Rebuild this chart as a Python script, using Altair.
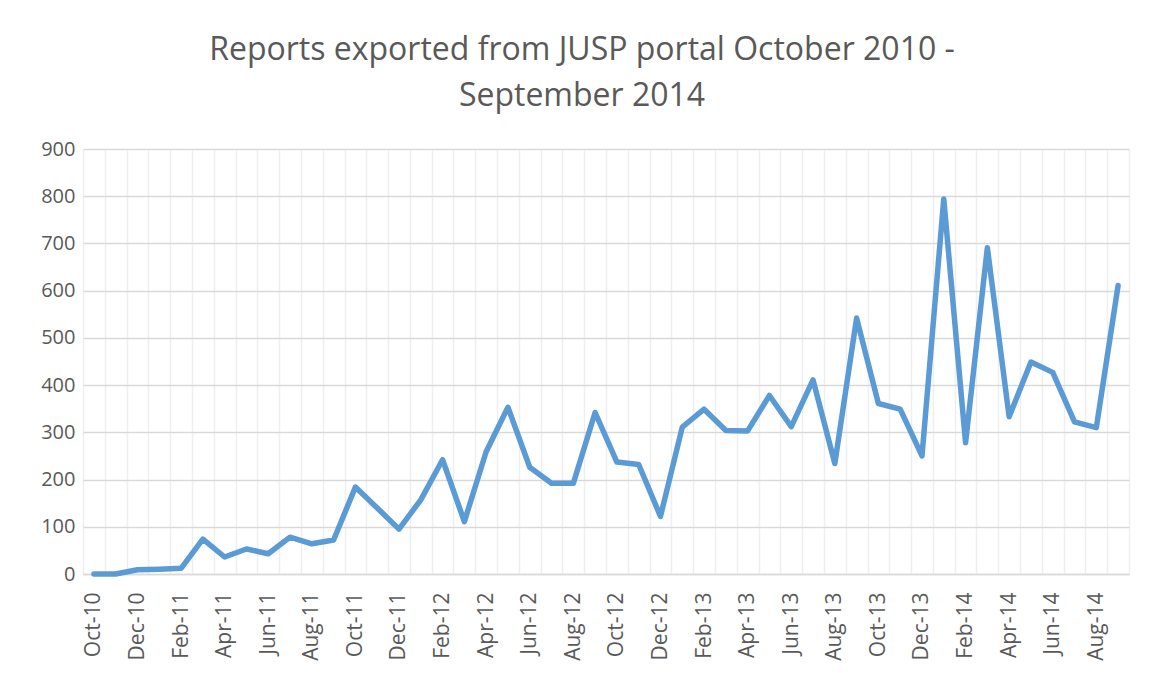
import altair as alt
import pandas as pd

months = [
    "Oct-10", "Nov-10", "Dec-10", "Jan-11", "Feb-11", "Mar-11", "Apr-11", "May-11",
    "Jun-11", "Jul-11", "Aug-11", "Sep-11", "Oct-11", "Nov-11", "Dec-11", "Jan-12",
    "Feb-12", "Mar-12", "Apr-12", "May-12", "Jun-12", "Jul-12", "Aug-12", "Sep-12",
    "Oct-12", "Nov-12", "Dec-12", "Jan-13", "Feb-13", "Mar-13", "Apr-13", "May-13",
    "Jun-13", "Jul-13", "Aug-13", "Sep-13", "Oct-13", "Nov-13", "Dec-13", "Jan-14",
    "Feb-14", "Mar-14", "Apr-14", "May-14", "Jun-14", "Jul-14", "Aug-14", "Sep-14",
]
reports = [
    0, 0, 9, 10, 12, 74, 36, 53,
    43, 78, 64, 72, 184, 140, 95, 157,
    242, 111, 259, 353, 226, 192, 192, 342,
    237, 232, 122, 311, 349, 304, 303, 378,
    312, 411, 234, 542, 361, 349, 250, 794,
    278, 691, 333, 449, 427, 322, 310, 611,
]
labelled_months = ["Oct", "Dec", "Feb", "Apr", "Jun", "Aug"]
y_ticks = [0, 100, 200, 300, 400, 500, 600, 700, 800, 900]

df = pd.DataFrame({"month": months, "reports": reports})

label_expr = (
    "indexof(" + str(labelled_months) + ", substring(datum.value, 0, 3)) >= 0 ? datum.value : ''"
)

FONT = "Open Sans"
TXT = "#595959"

chart = (
    alt.Chart(df)
    .mark_line(color="#5b9bd5", strokeWidth=5.5, strokeJoin="round", strokeCap="round")
    .encode(
        x=alt.X(
            "month:O",
            sort=None,
            title=None,
            scale=alt.Scale(type="band", paddingInner=0, paddingOuter=0),
            axis=alt.Axis(
                tickBand="extent",
                labelAngle=-90,
                labelExpr=label_expr,
                labelOverlap=False,
                labelFont=FONT,
                labelFontSize=21,
                labelColor=TXT,
                labelPadding=18,
                ticks=False,
                grid=True,
                gridColor="#efefef",
                gridWidth=1.5,
                domainColor="#d9d9d9",
                domainWidth=1.5,
            ),
        ),
        y=alt.Y(
            "reports:Q",
            title=None,
            scale=alt.Scale(domain=[0, 900], nice=False),
            axis=alt.Axis(
                values=y_ticks,
                labelFont=FONT,
                labelFontSize=20,
                labelColor=TXT,
                labelPadding=8,
                ticks=False,
                domain=False,
                grid=True,
                gridColor="#d9d9d9",
                gridWidth=1.5,
            ),
        ),
    )
    .properties(
        width=1046,
        height=425,
        autosize=alt.AutoSizeParams(type="none"),
        padding={"left": 75, "top": 141, "right": 15, "bottom": 90},
        title=alt.TitleParams(
            text=["Reports exported from JUSP portal October 2010 -", "September 2014"],
            font=FONT,
            fontSize=32,
            fontWeight="normal",
            color=TXT,
            anchor="middle",
            dx=-24,
            offset=26,
            lineHeight=46,
        ),
    )
    .configure_view(stroke=None)
)

chart.save("out.html", embed_options={"renderer": "svg", "actions": False})
